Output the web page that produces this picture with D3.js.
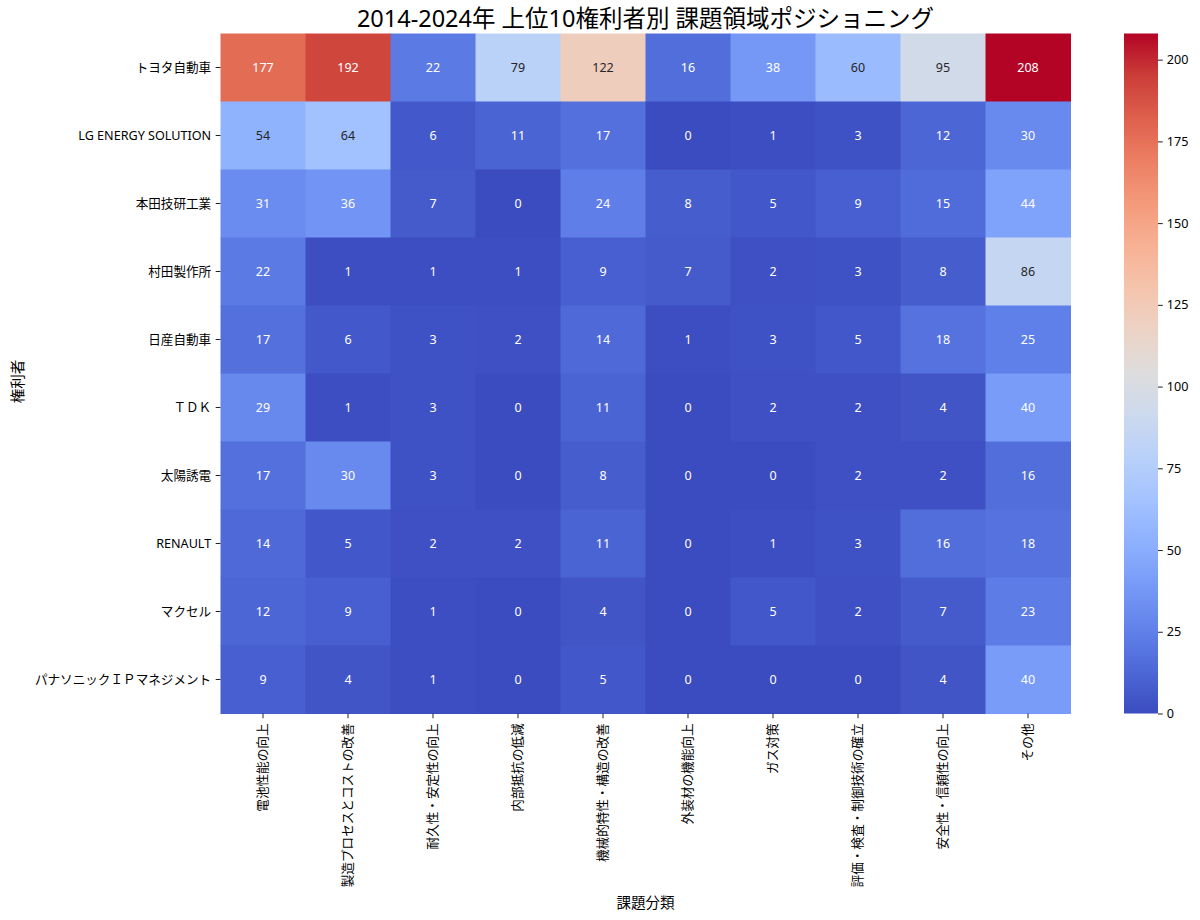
<!DOCTYPE html>
<html>
<head>
<meta charset="utf-8">
<script src="https://cdn.jsdelivr.net/npm/d3@7"></script>
<style>
  body { margin: 0; background: #fff; }
  svg text { font-family: "Noto Sans", "Noto Sans CJK JP", sans-serif; }
</style>
</head>
<body>
<div id="chart"></div>
<script>
// data
const owners = ["トヨタ自動車", "LG ENERGY SOLUTION", "本田技研工業", "村田製作所", "日産自動車",
                "ＴＤＫ", "太陽誘電", "RENAULT", "マクセル", "パナソニックＩＰマネジメント"];
const issues = ["電池性能の向上", "製造プロセスとコストの改善", "耐久性・安定性の向上", "内部抵抗の低減",
                "機械的特性・構造の改善", "外装材の機能向上", "ガス対策", "評価・検査・制御技術の確立",
                "安全性・信頼性の向上", "その他"];
const counts = [
    [177, 192, 22, 79, 122, 16, 38, 60, 95, 208],
    [54, 64, 6, 11, 17, 0, 1, 3, 12, 30],
    [31, 36, 7, 0, 24, 8, 5, 9, 15, 44],
    [22, 1, 1, 1, 9, 7, 2, 3, 8, 86],
    [17, 6, 3, 2, 14, 1, 3, 5, 18, 25],
    [29, 1, 3, 0, 11, 0, 2, 2, 4, 40],
    [17, 30, 3, 0, 8, 0, 0, 2, 2, 16],
    [14, 5, 2, 2, 11, 0, 1, 3, 16, 18],
    [12, 9, 1, 0, 4, 0, 5, 2, 7, 23],
    [9, 4, 1, 0, 5, 0, 0, 0, 4, 40]
];
const cbarTicks = [0, 25, 50, 75, 100, 125, 150, 175, 200];

// coolwarm colormap, sampled every 1/16
const cwStops = ["#3b4cc0", "#4d68d7", "#6282ea", "#779af7", "#8db0fe", "#a3c2ff", "#b8d0f9", "#ccd9ee",
                 "#dddddd", "#ecd3c5", "#f5c4ad", "#f7b194", "#f49a7b", "#ec7f63", "#de604d", "#cb3e38", "#b40426"];

let width = 1200, height = 920;
let mLeft = 220.5, mRight = 1070.5, mTop = 33.5, mBottom = 713.5;

var svg = d3.select("#chart").append("svg").attr("width", width).attr("height", height);

var x = d3.scaleBand().domain(issues).range([mLeft, mRight]);
var y = d3.scaleBand().domain(owners).range([mTop, mBottom]);

var vmax = d3.max(counts.flat());
var color = d3.scaleLinear()
    .domain(cwStops.map((c, i) => i / (cwStops.length - 1) * vmax))
    .range(cwStops)
    .interpolate(d3.interpolateRgb);

function textColor(c) { // seaborn style: light text on dark cells
    var rgb = d3.rgb(c);
    var lin = v => { v = v / 255; return v <= 0.03928 ? v / 12.92 : Math.pow((v + 0.055) / 1.055, 2.4); };
    var lum = 0.2126 * lin(rgb.r) + 0.7152 * lin(rgb.g) + 0.0722 * lin(rgb.b);
    return lum > 0.408 ? "#262626" : "#ffffff";
}

var cells = [];
counts.forEach((row, i) => row.forEach((v, j) => cells.push({owner: owners[i], issue: issues[j], v: v})));

svg.append("g").selectAll("rect")
    .data(cells)
    .enter()
    .append("rect")
    .attr("x", d => x(d.issue))
    .attr("y", d => y(d.owner))
    .attr("width", x.bandwidth() + 0.5)
    .attr("height", y.bandwidth() + 0.5)
    .attr("fill", d => color(d.v));

svg.append("g").selectAll("text")
    .data(cells)
    .enter()
    .append("text")
    .attr("x", d => x(d.issue) + x.bandwidth() / 2)
    .attr("y", d => y(d.owner) + y.bandwidth() / 2)
    .attr("dy", "0.35em")
    .attr("text-anchor", "middle")
    .attr("font-size", 12.5)
    .attr("fill", d => textColor(color(d.v)))
    .text(d => d.v);

// axes
var yAxis = svg.append("g")
    .attr("transform", "translate(" + mLeft + ",0)")
    .call(d3.axisLeft(y).tickSize(4.8).tickPadding(4.5));
yAxis.select(".domain").remove();
yAxis.selectAll("text").attr("font-size", 12.6).attr("fill", "#000");
yAxis.selectAll("line").attr("stroke", "#222");

var xAxis = svg.append("g")
    .attr("transform", "translate(0," + mBottom + ")")
    .call(d3.axisBottom(x).tickSize(4.8));
xAxis.select(".domain").remove();
xAxis.selectAll("line").attr("stroke", "#222");
xAxis.selectAll("text")
    .attr("font-size", 12.6)
    .attr("fill", "#000")
    .attr("transform", "rotate(-90)")
    .attr("text-anchor", "end")
    .attr("x", -10)
    .attr("y", 0)
    .attr("dy", "0.35em");

// labels
svg.append("text")
    .attr("x", (mLeft + mRight) / 2)
    .attr("y", 27)
    .attr("text-anchor", "middle")
    .attr("font-size", 23.5)
    .attr("fill", "#000")
    .text("2014-2024年 上位10権利者別 課題領域ポジショニング");

svg.append("text")
    .attr("x", (mLeft + mRight) / 2)
    .attr("y", 908)
    .attr("text-anchor", "middle")
    .attr("font-size", 14.5)
    .attr("fill", "#000")
    .text("課題分類");

svg.append("text")
    .attr("transform", "translate(23," + ((mTop + mBottom) / 2 + 8) + ") rotate(-90)")
    .attr("text-anchor", "middle")
    .attr("font-size", 14.5)
    .attr("fill", "#000")
    .text("権利者");

// colorbar
let cbLeft = 1124, cbWidth = 34;
var grad = svg.append("defs").append("linearGradient")
    .attr("id", "cw").attr("x1", 0).attr("y1", 1).attr("x2", 0).attr("y2", 0);
grad.selectAll("stop")
    .data(cwStops)
    .enter()
    .append("stop")
    .attr("offset", (d, i) => i / (cwStops.length - 1))
    .attr("stop-color", d => d);

var cy = d3.scaleLinear().domain([0, vmax]).range([mBottom, mTop]);

svg.append("rect")
    .attr("x", cbLeft)
    .attr("y", cy(vmax))
    .attr("width", cbWidth)
    .attr("height", cy(0) - cy(vmax))
    .attr("fill", "url(#cw)");

var cAxis = svg.append("g")
    .attr("transform", "translate(" + (cbLeft + cbWidth) + ",0)")
    .call(d3.axisRight(cy).tickValues(cbarTicks).tickSize(4.8).tickPadding(4));
cAxis.select(".domain").remove();
cAxis.selectAll("line").attr("stroke", "#222");
cAxis.selectAll("text").attr("font-size", 12.6).attr("fill", "#000");
</script>
</body>
</html>
